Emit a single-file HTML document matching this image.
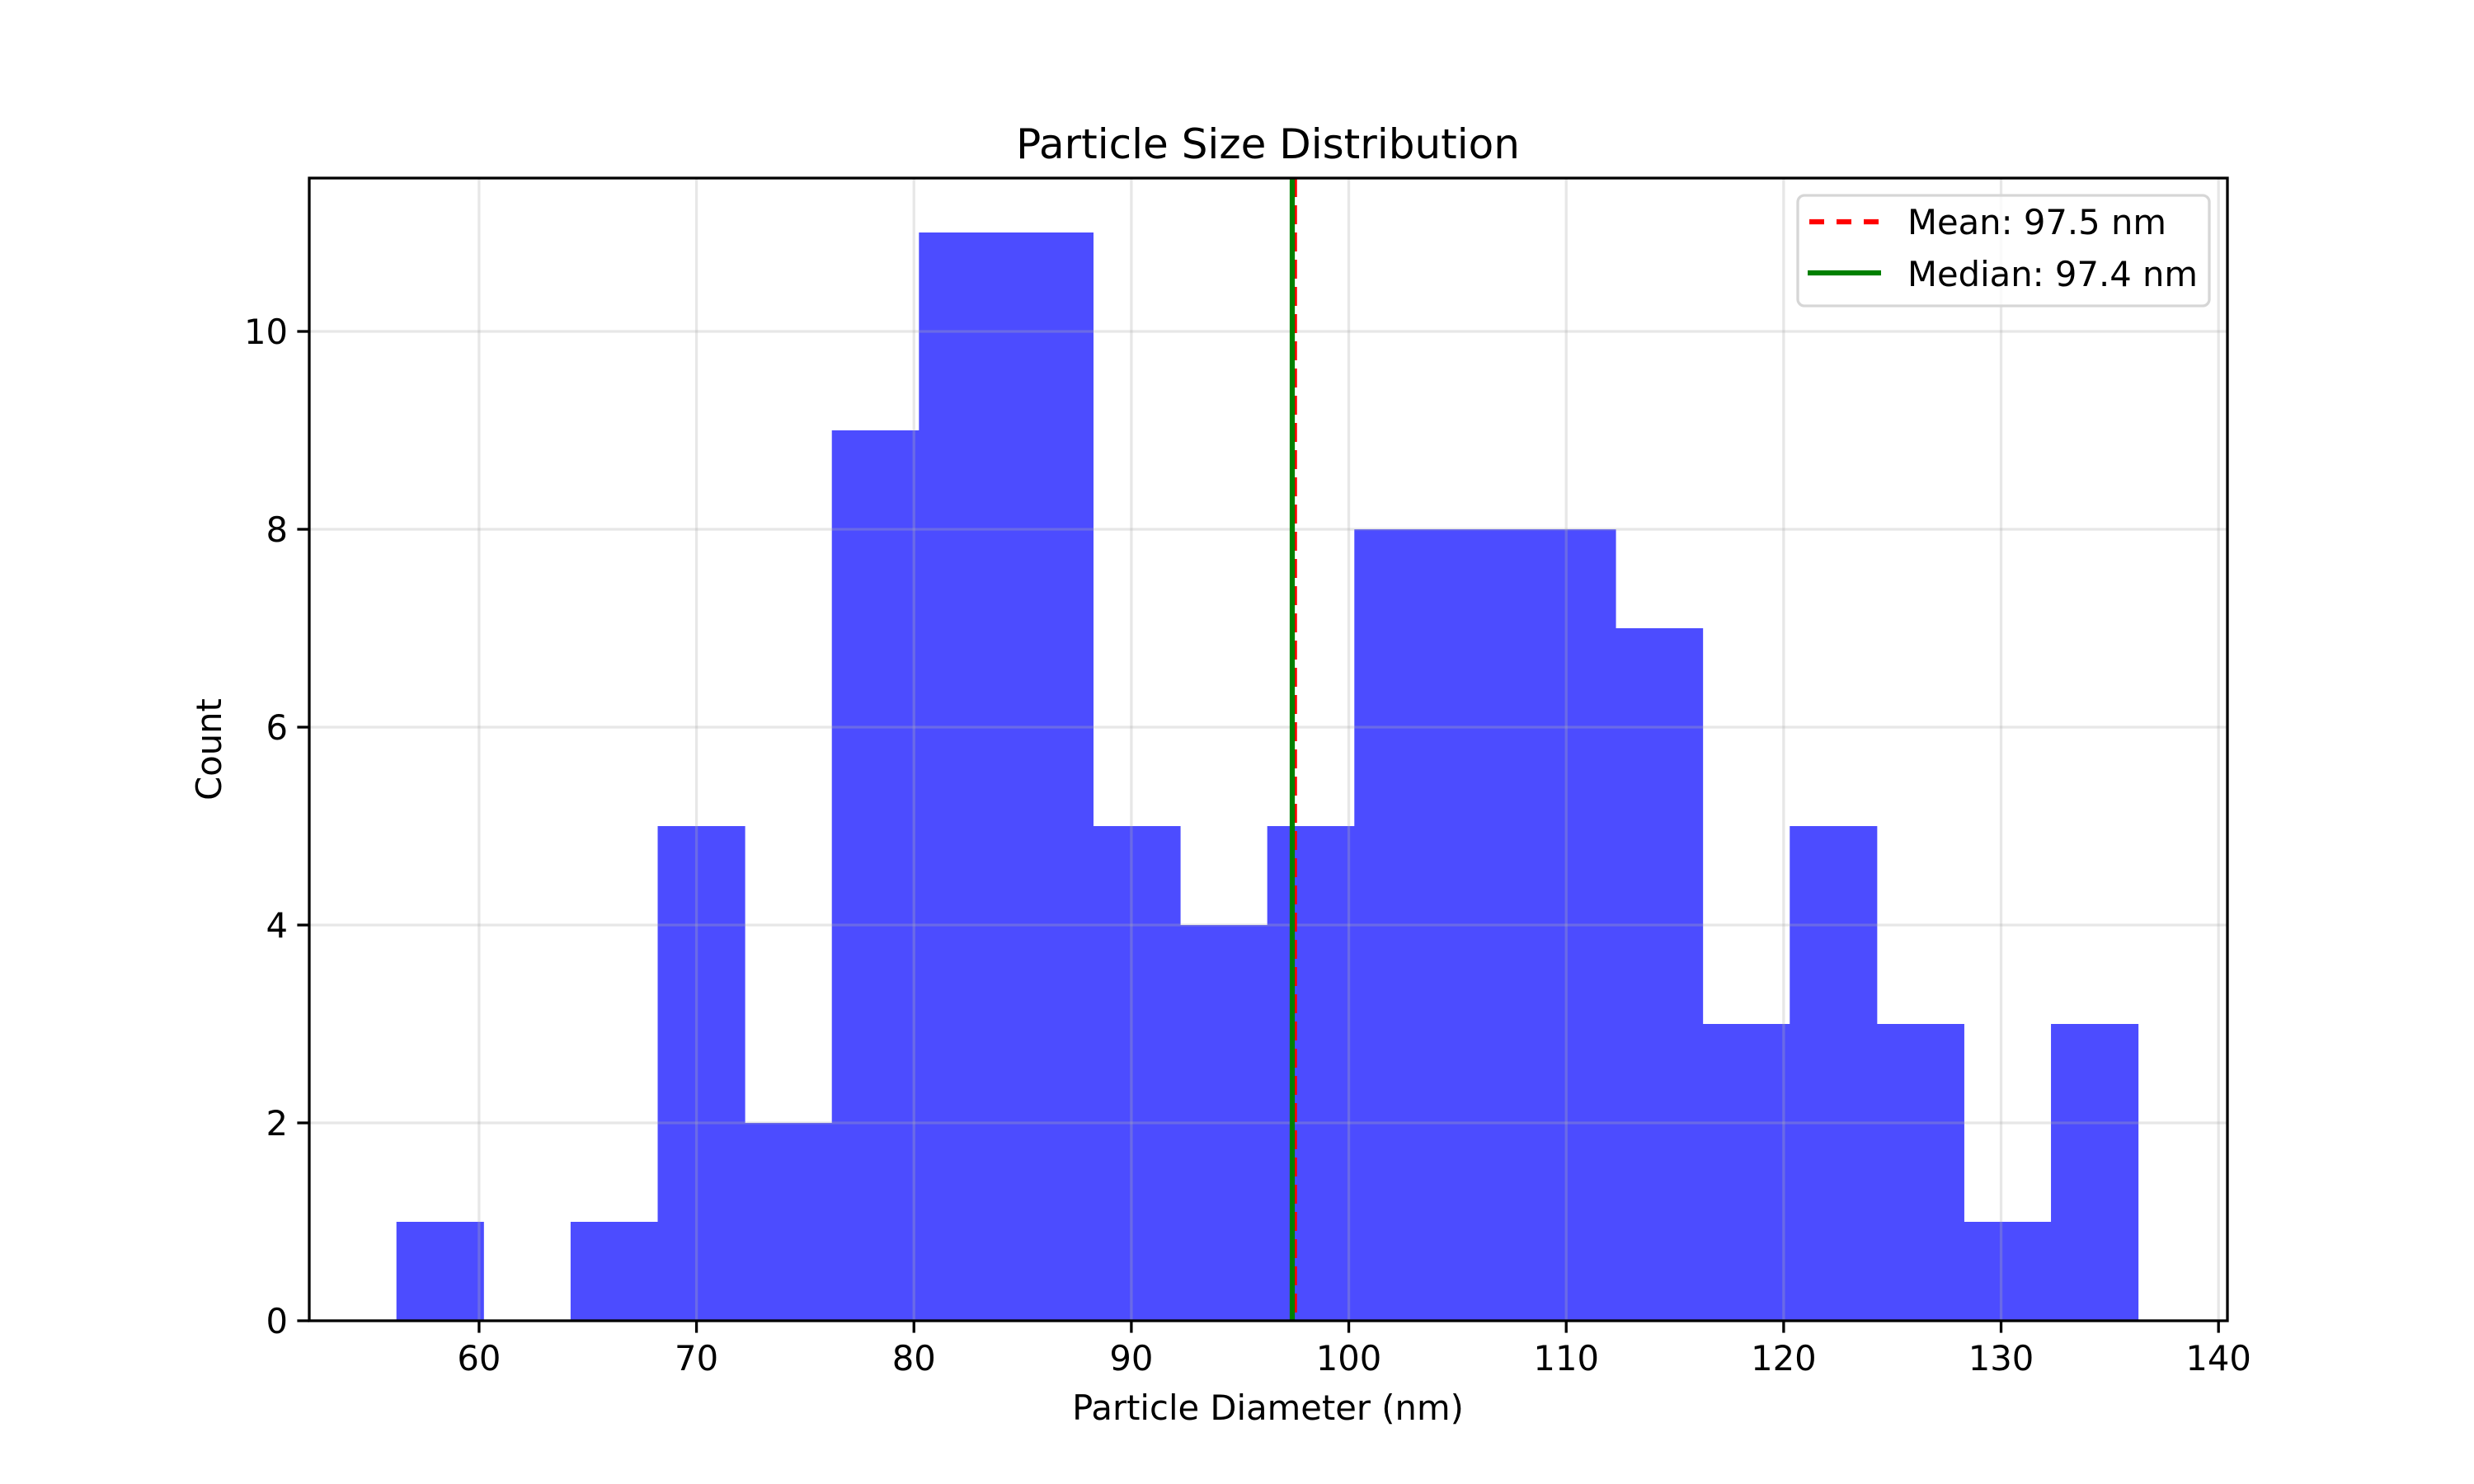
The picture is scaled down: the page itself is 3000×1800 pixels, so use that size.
<!DOCTYPE html>
<html><head><meta charset="utf-8"><style>
html,body{margin:0;padding:0;background:#fff;}
svg{display:block;font-family:"DejaVu Sans","Liberation Sans",sans-serif;}
</style></head><body>
<svg id="chart" width="3000" height="1800" viewBox="0 0 3000 1800" xmlns="http://www.w3.org/2000/svg">
<rect x="0" y="0" width="3000" height="1800" fill="#fff"/>
<g id="bars"></g>
<g id="grid"></g>
<g id="refs"></g>
<g id="axes"></g>
<text x="1537.5" y="192" font-size="50" text-anchor="middle">Particle Size Distribution</text>
<text x="1537.5" y="1722" font-size="41.7" text-anchor="middle">Particle Diameter (nm)</text>
<text transform="translate(268,909) rotate(-90)" font-size="41.7" text-anchor="middle">Count</text>
<g id="legend"></g>
</svg>
<script>
const binStart = 56.2;
const binWidth = 4.005;
const counts = [1,0,1,5,2,9,11,11,5,4,5,8,8,8,7,3,5,3,1,3];
const xTicks = [60,70,80,90,100,110,120,130,140];
const yTicks = [0,2,4,6,8,10];
const meanValue = 97.5;
const medianValue = 97.4;
const legendLabels = ["Mean: 97.5 nm","Median: 97.4 nm"];

const L=375,R=2701,T=216,B=1602;
const xMin=52.19,xMax=140.41,yMax=11.55;
const NS="http://www.w3.org/2000/svg";
function X(v){return L+(v-xMin)/(xMax-xMin)*(R-L);}
function Y(v){return B-v/yMax*(B-T);}
function mk(tag,attrs,parent){const e=document.createElementNS(NS,tag);for(const k in attrs)e.setAttribute(k,attrs[k]);parent.appendChild(e);return e;}

const bars=document.getElementById('bars');
counts.forEach((c,i)=>{
  if(c<=0)return;
  const x0=X(binStart+i*binWidth),x1=X(binStart+(i+1)*binWidth);
  const r=mk('rect',{x:x0,y:Y(c),width:x1-x0+0.5,height:B-Y(c),fill:'#4c4cff'},bars);
  
  
});

const grid=document.getElementById('grid');
xTicks.forEach(t=>{
  const l=mk('line',{x1:X(t),x2:X(t),y1:T,y2:B,stroke:'rgba(176,176,176,0.3)','stroke-width':3.3},grid);
  
  
});
yTicks.forEach(t=>{
  const l=mk('line',{x1:L,x2:R,y1:Y(t),y2:Y(t),stroke:'rgba(176,176,176,0.3)','stroke-width':3.3},grid);
  
  
});

const refs=document.getElementById('refs');
const ml=mk('line',{x1:X(meanValue),x2:X(meanValue),y1:T,y2:B,stroke:'#ff0000','stroke-width':6.25,'stroke-dasharray':'23,10'},refs);


const md=mk('line',{x1:X(medianValue),x2:X(medianValue),y1:T,y2:B,stroke:'#008000','stroke-width':6.25},refs);



const axes=document.getElementById('axes');
const frame=mk('rect',{x:L,y:T,width:R-L,height:B-T,fill:'none',stroke:'#000','stroke-width':3.3},axes);


xTicks.forEach(t=>{
  const tk=mk('line',{x1:X(t),x2:X(t),y1:B,y2:B+14.6,stroke:'#000','stroke-width':3.3},axes);
  
  
  const tx=mk('text',{x:X(t),y:B+60,'font-size':41.7,'text-anchor':'middle'},axes);
  tx.textContent=t;
  
  
});
yTicks.forEach(t=>{
  const tk=mk('line',{x1:L-14.6,x2:L,y1:Y(t),y2:Y(t),stroke:'#000','stroke-width':3.3},axes);
  
  
  const tx=mk('text',{x:L-26,y:Y(t)+15,'font-size':41.7,'text-anchor':'end'},axes);
  tx.textContent=t;
  
  
});

const lg=document.getElementById('legend');
const box=mk('rect',{x:2180,y:237,width:499,height:134,rx:8,fill:'rgba(255,255,255,0.8)',stroke:'#d6d6d6','stroke-width':3.3},lg);


const h1=mk('line',{x1:2194,x2:2280,y1:269,y2:269,stroke:'#ff0000','stroke-width':6.25,'stroke-dasharray':'18,15'},lg);


const t1=mk('text',{x:2313,y:284,'font-size':41.7},lg);
t1.textContent=legendLabels[0];


const h2=mk('line',{x1:2192,x2:2281,y1:331,y2:331,stroke:'#008000','stroke-width':6.25},lg);


const t2=mk('text',{x:2313,y:347,'font-size':41.7},lg);
t2.textContent=legendLabels[1];


</script>
</body></html>
